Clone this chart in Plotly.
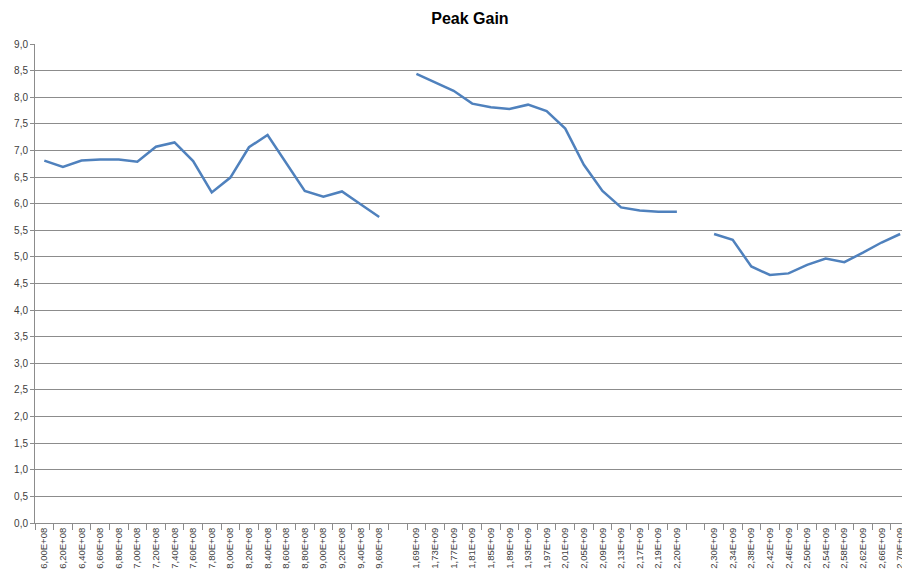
import plotly.graph_objects as go

labels_a = ["6,00E+08","6,20E+08","6,40E+08","6,60E+08","6,80E+08","7,00E+08","7,20E+08","7,40E+08",
            "7,60E+08","7,80E+08","8,00E+08","8,20E+08","8,40E+08","8,60E+08","8,80E+08","9,00E+08",
            "9,20E+08","9,40E+08","9,60E+08"]
gain_a = [6.81,6.69,6.81,6.83,6.83,6.79,7.07,7.15,6.80,6.21,6.49,7.06,7.29,6.76,6.24,6.13,6.23,5.99,5.75]

labels_b = ["1,69E+09","1,73E+09","1,77E+09","1,81E+09","1,85E+09","1,89E+09","1,93E+09","1,97E+09",
            "2,01E+09","2,05E+09","2,09E+09","2,13E+09","2,17E+09","2,19E+09","2,20E+09"]
gain_b = [8.44,8.28,8.12,7.88,7.81,7.78,7.86,7.74,7.41,6.73,6.24,5.93,5.87,5.85,5.85]

labels_c = ["2,30E+09","2,34E+09","2,38E+09","2,42E+09","2,46E+09","2,50E+09","2,54E+09","2,58E+09",
            "2,62E+09","2,66E+09","2,70E+09"]
gain_c = [5.43,5.32,4.82,4.66,4.69,4.85,4.97,4.90,5.08,5.27,5.43]

gap_labels = [" ", "  "]

categories = labels_a + [gap_labels[0]] + labels_b + [gap_labels[1]] + labels_c
values = gain_a + [None] + gain_b + [None] + gain_c

fig = go.Figure()
fig.add_trace(go.Scatter(
    x=categories, y=values, mode="lines",
    line=dict(color="#4F81BD", width=2.5),
    connectgaps=False, hoverinfo="x+y", cliponaxis=False,
))

grid = "#8C8C8C"
fig.update_layout(
    width=902, height=579,
    margin=dict(l=35, r=0, t=44, b=56, autoexpand=False),
    paper_bgcolor="white", plot_bgcolor="white",
    separators=",.",
    showlegend=False,
    title=dict(text="<b>Peak Gain</b>", x=0.521, xanchor="center", y=0.969, yanchor="middle",
               font=dict(family="Liberation Sans, Arial, sans-serif", size=16, color="#000000")),
    font=dict(family="Liberation Sans, Arial, sans-serif", color="#404040"),
)
fig.update_xaxes(
    type="category", categoryorder="array", categoryarray=categories,
    range=[-0.5, 46.1], automargin=False,
    tickson="boundaries", ticks="outside", ticklen=6, tickcolor=grid,
    showline=True, linecolor=grid, linewidth=1,
    showgrid=False, tickangle=-90,
    tickfont=dict(size=9.5, color="#404040"),
)
fig.update_yaxes(
    range=[0, 9], dtick=0.5, tickformat=".1f", automargin=False,
    showgrid=True, gridcolor=grid, gridwidth=1,
    showline=True, linecolor=grid, linewidth=1,
    ticks="outside", ticklen=4, tickcolor=grid,
    zeroline=False,
    tickfont=dict(size=10, color="#404040"),
)

fig.write_html("out.html", config={"displayModeBar": False},
               post_script="document.body.style.margin='0';document.body.style.overflow='hidden';")
